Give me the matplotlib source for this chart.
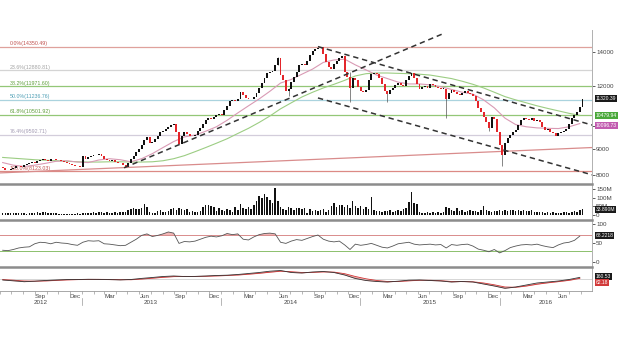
import numpy as np
import pandas as pd
import matplotlib
matplotlib.use('Agg')
import matplotlib.pyplot as plt
import matplotlib.dates as mdates
from matplotlib.transforms import blended_transform_factory as blend
from matplotlib.ticker import NullLocator

plt.rcParams['font.family'] = ['Liberation Sans', 'DejaVu Sans']

# ---- weekly closes (index), first week 2012-06-08 ----
start_week = '2012-06-08'
first_open = 8280
closes = [
    8230, 8180, 8150, 8210, 8260, 8300, 8330, 8290, 8360, 8400, 8430, 8470, 8440,
    8500, 8540, 8590, 8560, 8520, 8600, 8570, 8540, 8560, 8510, 8470, 8430,
    8390, 8350, 8300, 8330, 8290,
    8690, 8600, 8650, 8720, 8760, 8730, 8770, 8700, 8600, 8560, 8520, 8540, 8480, 8450,
    8430, 8340, 8280, 8420, 8600, 8700, 8850, 8980, 9150, 9380, 9480, 9260,
    9300, 9420, 9550, 9700, 9780, 9850, 9950, 10020, 10060, 9720, 9180,
    9550, 9700, 9620, 9560, 9520, 9600, 9750, 9900, 10100, 10250, 10350, 10300,
    10420, 10500, 10560, 10480,
    10750, 10950, 11200, 11260, 11200, 11300, 11650, 11500, 11350, 11300,
    11280, 11400, 11600, 11900, 12150, 12450, 12700, 12750, 12850, 13200, 13650,
    12600, 12300, 11700, 11850, 12200, 12500, 12800, 13200, 13250, 13200, 13450,
    13800, 14050, 14200, 14250, 14320, 13900, 13400, 13050, 12950,
    13250, 13450, 13600, 13750, 12800, 12500, 11900, 12450, 12300, 11950,
    11700, 11650, 11750, 12300, 12650, 12700, 12650, 12450, 12100, 11700,
    11550, 11750, 11900, 12050, 12150, 12050, 12000, 12300, 12550, 12700,
    12450, 12100, 11850, 11950, 12000, 11900, 12100, 12050, 11950, 11900, 11850,
    11850, 11300, 11600, 11750, 11650, 11550, 11500, 11600, 11700, 11620, 11580,
    11450, 11200, 10850, 10650, 10400, 10150, 9900, 10400, 10300, 9700, 9150, 8750,
    9250, 9450, 9600, 9700, 9800, 10050, 10250, 10380, 10300,
    10250, 10350, 10200, 10280, 10150, 9950, 9800, 9850, 9720, 9650, 9520,
    9650, 9720, 9750, 9850, 10100, 10350, 10500, 10650, 10900, 11320.39,
]
# long wicks (week index -> low / high)
wick_idx = [103, 107, 119, 130, 144, 166, 182, 187]
wick_lo = [13200, 11450, 14250, 11160, 11160, 10380, 9750, 8300]
wick_hi = [13700, 11900, 14350, 12800, 11700, 11850, 10150, 9150]

# weekly volume (millions)
volume = [
    9, 11, 10, 12, 10, 9, 11, 13, 10, 8, 12, 11,
    13, 15, 14, 16, 15, 13, 14, 12,
    9, 7, 8, 8, 7, 6, 8, 7, 9, 8, 10, 9, 11,
    14, 16, 13, 18, 15, 12, 19, 14, 13,
    16, 12, 18, 20, 17,
    30, 35, 38, 36, 34, 40, 63, 45,
    18, 12, 14, 22, 29, 16, 19, 25,
    33, 38, 30, 42, 35, 29, 32,
    19, 22, 17, 20, 24,
    48, 55, 58, 52, 45,
    25, 38, 30, 22, 35, 28, 19,
    45, 30, 62, 38, 32, 48, 36, 55,
    80, 110, 96, 121, 105,
    87, 70, 154, 80,
    48, 35, 30, 45, 42, 28, 38, 40, 36,
    38, 12, 35,
    25, 30, 22, 28, 33, 19, 27,
    52, 67, 48, 60, 55,
    45, 58, 40, 83, 50,
    38, 52, 35, 45, 33, 106,
    27, 22, 24, 20, 25, 22, 28, 19, 23, 26, 21, 35, 40,
    75, 133, 68,
    66, 18,
    14, 12, 16, 10, 18, 13, 15, 12, 17,
    45, 38, 30, 25, 40,
    22, 26, 19, 24, 28, 21, 25, 20, 27, 54,
    30, 22, 18, 25,
    24, 28, 22, 27, 25, 29, 26, 21, 28, 24, 26, 22, 25, 27, 20,
    18, 15, 19, 14, 17, 12, 16, 13, 10, 9, 18, 15, 12, 20, 25, 16,
    30, 33.89,
]

# RSI, every 2 weeks
rsi = [
    31, 30, 33, 37, 39, 40, 48, 52, 51, 48,
    52, 50, 49, 46, 44, 52, 56, 55, 56, 48,
    47, 45, 43, 44, 52, 60, 70, 74, 67, 70,
    74, 79, 76, 49, 54, 53, 55, 60, 65, 68,
    66, 69, 75, 72, 74, 60, 58, 66, 72, 75,
    76, 74, 52, 49, 55, 59, 57, 62, 67, 71,
    60, 55, 53, 55, 45, 33, 47, 44, 46, 49,
    44, 39, 37, 42, 48, 50, 52, 47, 45, 46,
    47, 45, 46, 37, 46, 44, 46, 47, 42, 34,
    31, 27, 33, 24, 30, 38, 42, 45, 46, 45,
    47, 43, 40, 38, 45, 50, 52, 57, 68.2218,
]

# moving averages, every 4 weeks
ma_short = [
    8450, 8350, 8300, 8350, 8420, 8500, 8520, 8470, 8450, 8550,
    8600, 8560, 8480, 8600, 8800, 9050, 9300, 9500, 9580, 9750,
    9950, 10250, 10600, 10950, 11300, 11700, 12150, 12350, 12650, 12950,
    13350, 13500, 13550, 13200, 12900, 12600, 12400, 12200, 12100, 12100,
    12050, 11950, 11800, 11650, 11550, 11250, 10850, 10350, 10050, 9950,
    9900, 9880, 9870, 9950, 10096.73,
]
ma_long = [
    8650, 8620, 8590, 8560, 8540, 8520, 8500, 8480, 8470, 8470,
    8480, 8480, 8470, 8470, 8480, 8520, 8600, 8720, 8880, 9050,
    9230, 9420, 9650, 9880, 10150, 10450, 10800, 11100, 11400, 11650,
    11880, 12080, 12300, 12550, 12680, 12720, 12720, 12700, 12680, 12650,
    12600, 12500, 12400, 12250, 12080, 11880, 11650, 11420, 11250, 11100,
    10950, 10820, 10700, 10580, 10479.94,
]

# MACD and signal, every 4 weeks
macd = [
    -100, -180, -270, -220, -150, -100, -60, -50, -30, -40,
    -60, -90, -50, 60, 150, 250, 300, 250, 260, 300,
    350, 380, 450, 550, 650, 780, 850, 650, 600, 700,
    750, 650, 400, 50, -150, -250, -300, -220, -120, -100,
    -150, -200, -300, -250, -300, -500, -700, -930, -800, -600,
    -400, -300, -200, -50, 160.53,
]
signal = [
    -60, -120, -200, -220, -190, -140, -90, -60, -40, -35,
    -45, -70, -70, -10, 80, 170, 240, 260, 255, 270,
    310, 350, 400, 480, 570, 680, 780, 730, 650, 660,
    710, 690, 530, 250, 20, -150, -250, -250, -180, -130,
    -130, -170, -250, -260, -280, -400, -580, -800, -830, -700,
    -520, -380, -260, -130, 62.18,
]

# Fibonacci retracement levels
fib_labels = ['0.0%(14350.49)', '23.6%(12880.81)', '38.2%(11971.60)', '50.0%(11236.76)',
              '61.8%(10501.92)', '76.4%(9592.71)', '100.0%(8123.03)']
fib_levels = [14350.49, 12880.81, 11971.60, 11236.76, 10501.92, 9592.71, 8123.03]
fib_line_colors = ['#dfa19c', '#d4d4d4', '#93c777', '#aad3de', '#93c777', '#d3cddb', '#dc8a85']
fib_text_colors = ['#c0504d', '#a3a3a3', '#5f9e3a', '#4f9fb5', '#5f9e3a', '#a39bb3', '#c0504d']

# trend lines: (start date, end date), (start value, end value)
trend_up = (['2013-04-22', '2015-08-04'], [8250, 15200])
trend_down_hi = (['2014-09-12', '2016-08-30'], [14350, 10030])
trend_down_lo = (['2014-09-12', '2016-08-30'], [11350, 7990])
trend_long = (['2012-06-01', '2016-08-30'], [8060, 9050])

x_range = ['2012-06-01', '2016-08-30']


def to_num(d):
    return mdates.date2num(pd.to_datetime(d).to_pydatetime())


def weekly(n, step=1):
    return to_num(pd.date_range(start_week, periods=n, freq=f'{7 * step}D'))


fig = plt.figure(figsize=(6.2, 3.55), dpi=100)
W = 592 / 620
ax = fig.add_axes([0.0, 0.4817, W, 0.4338])
axv = fig.add_axes([0.0, 0.3803, W, 0.1014], sharex=ax)
axr = fig.add_axes([0.0, 0.2479, W, 0.1324], sharex=ax)
axm = fig.add_axes([0.0, 0.1803, W, 0.0676], sharex=ax)

grey = '#8c8c8c'
for a in (ax, axv, axr, axm):
    for s in ('left', 'bottom', 'top'):
        a.spines[s].set_visible(False)
    a.spines['right'].set_color('#b0b0b0')
    a.spines['right'].set_linewidth(0.7)
    a.yaxis.tick_right()
    a.tick_params(axis='y', labelsize=4.5, colors='#444444', length=2, width=0.6, pad=1)
    a.tick_params(axis='x', bottom=False, labelbottom=False)
    a.yaxis.set_minor_locator(NullLocator())
for a in (axv, axr, axm):
    a.spines['top'].set_visible(True)
    a.spines['top'].set_color(grey)
    a.spines['top'].set_linewidth(1.8)

# --- price panel ---
c = np.array(closes, dtype=float)
o = np.concatenate([[first_open], c[:-1]])
xd = weekly(len(c))
up = c >= o
bot = np.minimum(o, c)
hgt = np.maximum(np.abs(c - o), 20)

ax.set_yscale('log')
ax.set_ylim(7662, 15480)
ax.set_xlim(to_num(x_range[0]), to_num(x_range[1]))

btr = blend(ax.transAxes, ax.transData)
for lvl, lab, lc, tc in zip(fib_levels, fib_labels, fib_line_colors, fib_text_colors):
    ax.axhline(lvl, color=lc, lw=0.9, zorder=1)
    ax.text(0.016, lvl * 1.003, lab, transform=btr, fontsize=3.8, color=tc,
            va='bottom', ha='left', zorder=1)

ax.plot(to_num(trend_long[0]), trend_long[1], color='#d98c8c', lw=0.9, zorder=1)

ax.plot(weekly(len(ma_long), 4), ma_long, color='#9ccd83', lw=0.8, zorder=2)
ax.plot(weekly(len(ma_short), 4), ma_short, color='#d99ab4', lw=0.8, zorder=2)

wx = xd[wick_idx]
ax.vlines(wx, wick_lo, wick_hi, color='#555555', lw=0.5, zorder=3)
ax.bar(xd[up], hgt[up], bottom=bot[up], width=5, color='#111111', zorder=3)
ax.bar(xd[~up], hgt[~up], bottom=bot[~up], width=5, color='#e3262b', zorder=3)

for tl in (trend_up, trend_down_hi, trend_down_lo):
    ax.plot(to_num(tl[0]), tl[1], color='#333333', lw=1.1, ls=(0, (3.5, 2.5)), zorder=4)

ax.set_yticks([8000, 9000, 10000, 12000, 14000])
ax.set_yticklabels(['8000', '9000', '10000', '12000', '14000'])
ax.yaxis.set_minor_locator(NullLocator())


def tag(a, val, txt, fc):
    a.text(1.006, val, txt, transform=blend(a.transAxes, a.transData), fontsize=3.6,
           color='white', va='center', ha='left', zorder=10, clip_on=False,
           bbox=dict(boxstyle='square,pad=0.2', fc=fc, ec='none'))


tag(ax, closes[-1], f'{closes[-1]:.2f}', '#1a1a1a')
tag(ax, ma_long[-1], f'{ma_long[-1]:.2f}', '#4aa83a')
tag(ax, ma_short[-1] * 0.99, f'{ma_short[-1]:.2f}', '#c25bb0')

# --- volume panel ---
axv.bar(weekly(len(volume)), volume, width=4, color='#111111')
axv.set_ylim(-29, 179)
axv.set_yticks([0, 50, 100, 150])
axv.set_yticklabels(['0', '50M', '100M', '150M'])
tag(axv, volume[-1] - 3, f'{volume[-1]:.3f}M', '#1a1a1a')

# --- RSI panel ---
rx = weekly(len(rsi), 2)
r = np.array(rsi, dtype=float)
axr.axhline(70, color='#d98c8c', lw=0.7)
axr.axhline(30, color='#8cc06c', lw=0.7)
axr.fill_between(rx, r, 70, where=r > 70, interpolate=True, color='#f2b5b5', lw=0)
axr.fill_between(rx, r, 30, where=r < 30, interpolate=True, color='#bfe0a8', lw=0)
axr.plot(rx, r, color='#555555', lw=0.6)
axr.set_ylim(-13, 110.5)
axr.set_yticks([0, 50, 100])
tag(axr, 70, f'{rsi[-1]:.4f}', '#1a1a1a')

# --- MACD panel ---
mx = weekly(len(macd), 4)
axm.axhline(0, color='#d0d0d0', lw=0.6)
axm.fill_between(mx, macd, signal, color='#e58a8a', alpha=0.7, lw=0)
axm.plot(mx, signal, color='#d03030', lw=0.6)
axm.plot(mx, macd, color='#333333', lw=0.6)
axm.set_ylim(-1200, 1200)
axm.set_yticks([])
tag(axm, 200, f'{macd[-1]:.2f}', '#1a1a1a')
tag(axm, -400, f'{signal[-1]:.2f}', '#d23a3a')

# --- time axis ---
axm.spines['bottom'].set_visible(True)
axm.spines['bottom'].set_color('#9a9a9a')
axm.spines['bottom'].set_linewidth(0.6)
qt = [pd.Timestamp(y, m, 15) for y in range(2012, 2017) for m in (3, 6, 9, 12)]
qt = [d for d in qt if pd.Timestamp('2012-08-01') < d < pd.Timestamp(x_range[1])]
axm.set_xticks(to_num(qt))
axm.set_xticklabels([d.strftime('%b') for d in qt])
axm.xaxis.set_minor_locator(mdates.MonthLocator())
axm.tick_params(axis='x', which='major', bottom=True, labelbottom=True, length=0,
                labelsize=4.5, colors='#444444', pad=2)
axm.tick_params(axis='x', which='minor', bottom=True, length=2, width=0.5, color='#9a9a9a')

xtr = blend(axm.transData, axm.transAxes)
years = ['2012', '2013', '2014', '2015', '2016']
year_mid = ['2012-09-15', '2013-07-02', '2014-07-02', '2015-07-02', '2016-05-01']
for yl, ym in zip(years, year_mid):
    axm.text(to_num(ym), -0.47, yl, transform=xtr, fontsize=4.5, color='#444444',
             ha='center', va='center', clip_on=False)
for yb in ['2013-01-01', '2014-01-01', '2015-01-01', '2016-01-01']:
    axm.plot([to_num(yb)] * 2, [-0.3, -0.6], transform=xtr, color='#9a9a9a', lw=0.5,
             clip_on=False)

fig.savefig('out.png', dpi=100, facecolor='white')
